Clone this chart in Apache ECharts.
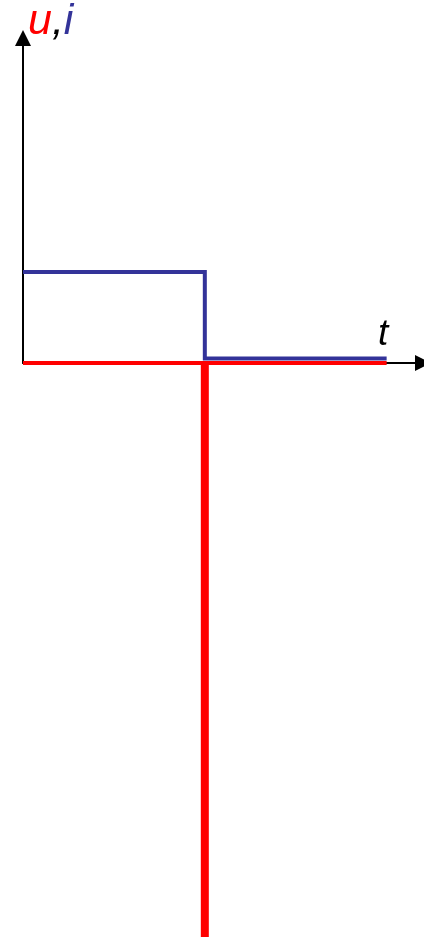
<!DOCTYPE html>
<html>
<head>
<meta charset="utf-8">
<script src="https://cdn.jsdelivr.net/npm/echarts@6/dist/echarts.min.js"></script>
<style>html,body{margin:0;padding:0;background:#fff}#c{width:424px;height:937px}</style>
</head>
<body>
<div id="c"></div>
<script>
// t values (abstract units)
const tRange = [0, 11];
// current i: step down at t = 5
const iSeries = [[0, 1], [5, 1], [5, 0.047], [10, 0.047]];
// voltage u: zero, then a large negative spike at t = 5
const uFlat = [[0, 0], [10, 0]];
const uSpike = [[5, 0], [5, -6.31]];
const yRange = [-6.31, 3.571];
const labels = { u: 'u', sep: ',', i: 'i', t: 't' };

const chart = echarts.init(document.getElementById('c'), null, { renderer: 'canvas' });
const blue = '#333399', red = '#ff0000';
chart.setOption({
  animation: false,
  grid: [
    { left: 23, top: 38, width: 400, height: 325 },
    { left: 23, top: 38, width: 400, height: 899 }
  ],
  xAxis: [
    { type: 'value', gridIndex: 0, min: tRange[0], max: tRange[1],
      axisLine: { show: true, onZero: false, symbol: ['none', 'triangle'], symbolSize: [16, 16],
        lineStyle: { color: '#000', width: 2 } },
      axisTick: { show: false }, axisLabel: { show: false }, splitLine: { show: false } },
    { type: 'value', gridIndex: 1, min: tRange[0], max: tRange[1], show: false }
  ],
  yAxis: [
    { type: 'value', gridIndex: 0, min: 0, max: 1,
      axisLine: { show: true, onZero: false, symbol: ['none', 'triangle'], symbolSize: [16, 16],
        lineStyle: { color: '#000', width: 2 } },
      axisTick: { show: false }, axisLabel: { show: false }, splitLine: { show: false } },
    { type: 'value', gridIndex: 1, min: yRange[0], max: yRange[1], show: false }
  ],
  series: [
    { type: 'line', xAxisIndex: 1, yAxisIndex: 1, data: uFlat, symbol: 'none',
      lineStyle: { color: red, width: 4 }, z: 3 },
    { type: 'line', xAxisIndex: 1, yAxisIndex: 1, data: uSpike, symbol: 'none',
      lineStyle: { color: red, width: 8 }, z: 3 },
    { type: 'line', xAxisIndex: 1, yAxisIndex: 1, data: iSeries, symbol: 'none',
      lineStyle: { color: blue, width: 4, join: 'miter', cap: 'butt' }, z: 4 }
  ],
  graphic: [
    { type: 'text', x: 28, y: 22, z: 10,
      style: { text: '{u|' + labels.u + '}{c|' + labels.sep + '}{i|' + labels.i + '}',
        verticalAlign: 'middle', align: 'left',
        rich: {
          u: { fill: red, fontSize: 43, fontStyle: 'italic', fontFamily: 'Liberation Sans' },
          c: { fill: '#000', fontSize: 43, fontStyle: 'italic', fontFamily: 'Liberation Sans' },
          i: { fill: blue, fontSize: 43, fontStyle: 'italic', fontFamily: 'Liberation Sans' }
        } } },
    { type: 'text', x: 378, y: 335, z: 10,
      style: { text: labels.t, fill: '#000', fontSize: 37, fontStyle: 'italic',
        fontFamily: 'Liberation Sans', verticalAlign: 'middle', align: 'left' } }
  ]
});
</script>
</body>
</html>
